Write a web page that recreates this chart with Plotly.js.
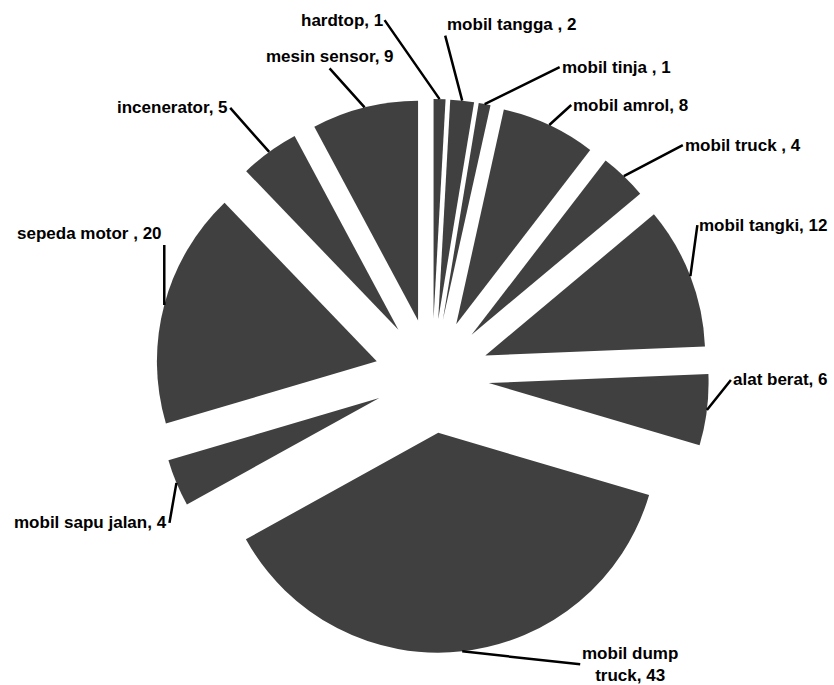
<!DOCTYPE html>
<html>
<head>
<meta charset="utf-8">
<script src="https://cdn.plot.ly/plotly-3.0.1.min.js"></script>
<style>html,body{margin:0;padding:0;background:#fff;}#chart{width:834px;height:685px;}</style>
</head>
<body>
<div id="chart"></div>
<script>
// ---- data ----
const categories = ["hardtop", "mobil tangga ", "mobil tinja ", "mobil amrol", "mobil truck ", "mobil tangki",
  "alat berat", "mobil dump truck", "mobil sapu jalan", "sepeda motor ", "incenerator", "mesin sensor"];
const values = [1, 2, 1, 8, 4, 12, 6, 43, 4, 20, 5, 9];
const displayLabels = ["hardtop", "mobil tangga ", "mobil tinja ", "mobil amrol", "mobil truck ", "mobil tangki",
  "alat berat", "mobil dump<br>truck", "mobil sapu jalan", "sepeda motor ", "incenerator", "mesin sensor"];

// ---- layout helpers (label placement in px, not data) ----
// [ax, ay, xanchor, yanchor]
const labelPlacement = [
  [-55, -79, 'right', 'middle'],
  [-17, -65, 'left', 'bottom'],
  [75, -37, 'left', 'middle'],
  [22, -20, 'left', 'middle'],
  [59, -31, 'left', 'middle'],
  [7, -51, 'left', 'middle'],
  [24, -30, 'left', 'middle'],
  [118, 13, 'left', 'middle'],
  [-7, 40, 'right', 'middle'],
  [0, -60, 'right', 'bottom'],
  [-39, -44, 'right', 'middle'],
  [-35, -39, 'center', 'bottom']
];

const total = values.reduce((a, b) => a + b, 0);
let cum = 0;
const annotations = values.map((v, i) => {
  const mid = (cum + v / 2) / total * 2 * Math.PI;
  cum += v;
  const p = labelPlacement[i];
  return {
    xref: 'paper', yref: 'paper',
    x: 0.5 + 0.5 * Math.sin(mid),
    y: 0.5 + 0.5 * Math.cos(mid),
    text: displayLabels[i] + ', ' + v,
    showarrow: true, arrowhead: 0, arrowwidth: 2.5, arrowcolor: '#000',
    standoff: 0, ax: p[0], ay: p[1], xanchor: p[2], yanchor: p[3],
    borderpad: 1,
    font: {family: 'Liberation Sans, Arial, sans-serif', size: 17, color: '#000', weight: 'bold'},
    align: 'center'
  };
});

const trace = {
  type: 'pie',
  labels: categories,
  values: values,
  sort: false,
  direction: 'clockwise',
  rotation: 0,
  pull: 0.26,
  textinfo: 'none',
  hoverinfo: 'label+value',
  marker: {colors: values.map(() => '#404040'), line: {width: 0}},
  showlegend: false
};

const layout = {
  width: 834, height: 685,
  margin: {l: 155, r: 125, t: 99, b: 32},
  paper_bgcolor: '#fff', plot_bgcolor: '#fff',
  showlegend: false,
  annotations: annotations
};

Plotly.newPlot('chart', [trace], layout, {displayModeBar: false, staticPlot: true});
</script>
</body>
</html>
